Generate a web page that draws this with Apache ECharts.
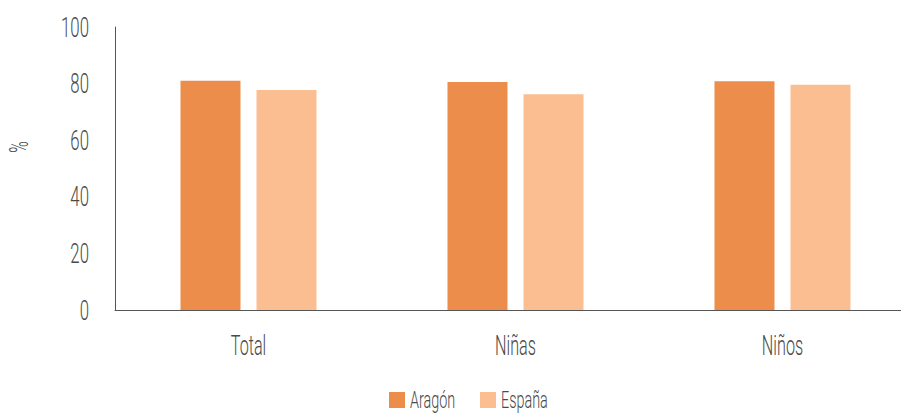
<!DOCTYPE html>
<html>
<head>
<meta charset="utf-8">
<script src="https://cdn.jsdelivr.net/npm/echarts@6/dist/echarts.min.js"></script>
<style>
html,body{margin:0;padding:0;background:#fff;overflow:hidden}
#c{width:917px;height:415px}
</style>
</head>
<body>
<div id="c"></div>
<script>
const categories = ['Total', 'Niñas', 'Niños'];
const aragon = [81.0, 80.6, 80.8];
const espana = [77.7, 76.2, 79.6];
const yTicks = [0, 20, 40, 60, 80, 100];
const seriesNames = ['Aragón', 'España'];
const colors = ['#EC8D4C', '#FBBE91'];

const FONT = "Roboto, 'DejaVu Sans', sans-serif";
const TXT = '#4a4a4a';
const chart = echarts.init(document.getElementById('c'), null, { renderer: 'svg' });
chart.setOption({
  animation: false,
  grid: { left: 115, top: 27, width: 801, height: 283, containLabel: false },
  legend: [
    { top: 388, left: 389, itemWidth: 16, itemHeight: 16, itemGap: 6, icon: 'rect', padding: 0,
      textStyle: { fontFamily: FONT, fontSize: 24, color: TXT, fontWeight: 300 },
      data: [seriesNames[0]] },
    { top: 388, left: 480, itemWidth: 16, itemHeight: 16, itemGap: 6, icon: 'rect', padding: 0,
      textStyle: { fontFamily: FONT, fontSize: 24, color: TXT, fontWeight: 300 },
      data: [seriesNames[1]] }
  ],
  graphic: [{
    type: 'text', x: 19, y: 147, rotation: Math.PI / 2,
    style: { text: '%', fontFamily: FONT, fontSize: 26, fontWeight: 300, fill: TXT, align: 'center', verticalAlign: 'middle' }
  }],
  xAxis: {
    type: 'category', data: categories,
    axisLine: { lineStyle: { color: '#555', width: 1 } },
    axisTick: { show: false },
    axisLabel: { fontFamily: FONT, fontSize: 27, color: TXT, margin: 22, fontWeight: 300 }
  },
  yAxis: {
    type: 'value', min: yTicks[0], max: yTicks[yTicks.length - 1], interval: 20,
    axisLine: { show: true, lineStyle: { color: '#555', width: 1 } },
    axisTick: { show: false },
    splitLine: { show: false },
    axisLabel: { fontFamily: FONT, fontSize: 28, color: TXT, margin: 26, fontWeight: 300 }
  },
  series: [
    { name: seriesNames[0], type: 'bar', data: aragon, barWidth: 60, barGap: '26.7%',
      itemStyle: { color: colors[0] } },
    { name: seriesNames[1], type: 'bar', data: espana, barWidth: 60,
      itemStyle: { color: colors[1] } }
  ]
});
// condense the glyphs horizontally (reference uses a condensed typeface)
function condense() {
  document.querySelectorAll('#c svg text').forEach(t => {
    if (t.getAttribute('data-cond')) return;
    const len = t.getComputedTextLength();
    if (len > 0) {
      t.setAttribute('textLength', (len * 0.6).toFixed(2));
      t.setAttribute('lengthAdjust', 'spacingAndGlyphs');
      t.setAttribute('data-cond', '1');
    }
  });
}
condense();
chart.on('finished', condense);
</script>
</body>
</html>
